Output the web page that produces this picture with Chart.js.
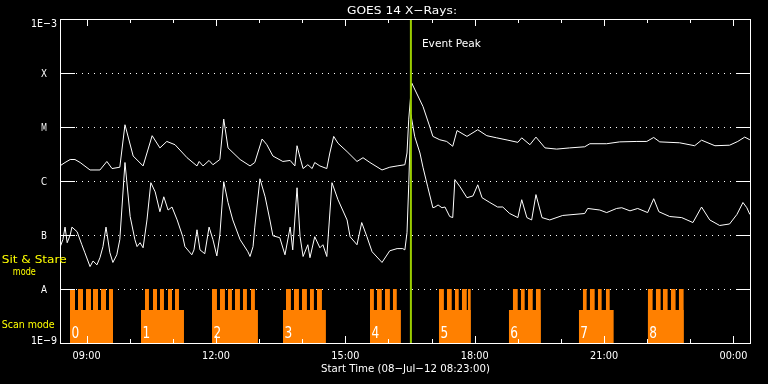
<!DOCTYPE html>
<html>
<head>
<meta charset="utf-8">
<script src="https://cdn.jsdelivr.net/npm/chart.js@4.4.1/dist/chart.umd.min.js"></script>
<style>
  html, body { margin: 0; padding: 0; background: #000; }
  canvas { display: block; }
</style>
</head>
<body>
<canvas id="xrayChart" width="768" height="384"></canvas>
<script>
// GOES 14 X-ray flux (W/m^2), 08-Jul-12, time in decimal hours (24 = 00:00 next day)
const startHour = 8 + 23 / 60;
const endHour = startHour + 16;

// 1-8 A channel (upper curve)
const longTimes = [
    8.38, 8.50, 8.62, 8.73, 8.85, 9.08, 9.31, 9.47, 9.59, 9.77,
    9.89, 10.08, 10.31, 10.52, 10.70, 10.86, 11.05, 11.33, 11.56, 11.61,
    11.70, 11.84, 11.93, 12.09, 12.18, 12.28, 12.56, 12.79, 12.90, 13.07,
    13.18, 13.32, 13.55, 13.72, 13.83, 13.88, 13.95, 14.02, 14.13, 14.23,
    14.29, 14.41, 14.57, 14.64, 14.73, 14.83, 15.04, 15.27, 15.41, 15.57,
    15.85, 16.03, 16.20, 16.38, 16.43, 16.47, 16.54, 16.80, 16.96, 17.03,
    17.19, 17.35, 17.49, 17.59, 17.82, 18.07, 18.28, 18.51, 18.77, 19.00,
    19.09, 19.28, 19.42, 19.63, 19.90, 20.20, 20.55, 20.67, 21.06, 21.36,
    21.76, 21.99, 22.15, 22.29, 22.75, 23.10, 23.26, 23.57, 23.91, 24.10,
    24.26, 24.38
];
const longFlux = [
    1.9e-6, 2.2e-6, 2.5e-6, 2.5e-6, 2.2e-6, 1.6e-6, 1.6e-6, 2.3e-6, 1.7e-6, 1.8e-6,
    1.1e-5, 2.9e-6, 1.9e-6, 6.9e-6, 4.1e-6, 5.4e-6, 4.7e-6, 2.7e-6, 1.9e-6, 2.3e-6,
    1.9e-6, 2.4e-6, 2.0e-6, 2.5e-6, 1.4e-5, 4.1e-6, 2.5e-6, 1.9e-6, 2.2e-6, 6.0e-6,
    4.7e-6, 2.9e-6, 2.3e-6, 2.4e-6, 1.9e-6, 4.5e-6, 2.7e-6, 1.7e-6, 2.0e-6, 1.7e-6,
    2.2e-6, 1.9e-6, 1.7e-6, 3.3e-6, 6.7e-6, 5.0e-6, 3.5e-6, 2.3e-6, 2.7e-6, 2.2e-6,
    1.6e-6, 1.8e-6, 1.9e-6, 2.0e-6, 3.3e-6, 1.4e-5, 6.5e-5, 2.4e-5, 1.0e-5, 6.7e-6,
    5.8e-6, 5.4e-6, 4.4e-6, 8.6e-6, 6.7e-6, 8.9e-6, 6.9e-6, 6.3e-6, 5.7e-6, 5.2e-6,
    6.3e-6, 4.7e-6, 6.5e-6, 4.1e-6, 3.9e-6, 4.1e-6, 4.3e-6, 4.9e-6, 4.9e-6, 5.3e-6,
    5.4e-6, 5.4e-6, 6.4e-6, 5.3e-6, 5.1e-6, 4.5e-6, 5.7e-6, 4.5e-6, 4.6e-6, 5.4e-6,
    6.5e-6, 5.8e-6
];

// 0.5-4 A channel (lower curve)
const shortTimes = [
    8.38, 8.45, 8.50, 8.55, 8.62, 8.66, 8.78, 8.89, 8.96, 9.08,
    9.15, 9.24, 9.31, 9.38, 9.45, 9.54, 9.61, 9.70, 9.77, 9.89,
    10.01, 10.12, 10.17, 10.24, 10.31, 10.40, 10.49, 10.59, 10.70, 10.79,
    10.89, 10.98, 11.10, 11.23, 11.28, 11.44, 11.49, 11.56, 11.63, 11.74,
    11.84, 11.93, 12.02, 12.09, 12.18, 12.28, 12.39, 12.56, 12.74, 12.79,
    12.86, 12.90, 13.02, 13.14, 13.25, 13.32, 13.48, 13.60, 13.72, 13.78,
    13.88, 13.95, 14.02, 14.13, 14.18, 14.29, 14.41, 14.48, 14.57, 14.69,
    14.83, 15.04, 15.11, 15.27, 15.38, 15.50, 15.62, 15.85, 16.03, 16.20,
    16.33, 16.38, 16.43, 16.47, 16.52, 16.61, 16.73, 16.80, 16.91, 17.03,
    17.08, 17.15, 17.24, 17.31, 17.42, 17.49, 17.54, 17.66, 17.82, 17.96,
    18.07, 18.17, 18.35, 18.53, 18.65, 18.81, 19.00, 19.09, 19.21, 19.32,
    19.42, 19.56, 19.74, 20.04, 20.55, 20.62, 20.90, 21.06, 21.29, 21.41,
    21.60, 21.78, 22.01, 22.15, 22.27, 22.52, 22.80, 23.06, 23.26, 23.45,
    23.68, 23.91, 24.08, 24.22, 24.31, 24.38
];
const shortFlux = [
    5.8e-8, 8.2e-8, 1.4e-7, 7.2e-8, 1.0e-7, 1.4e-7, 1.15e-7, 6.6e-8, 4.7e-8, 2.6e-8,
    3.3e-8, 2.8e-8, 3.8e-8, 6.1e-8, 1.4e-7, 4.7e-8, 3.1e-8, 4.3e-8, 8.2e-8, 2.2e-6,
    2.2e-7, 8.2e-8, 6.1e-8, 7.2e-8, 5.8e-8, 1.9e-7, 9.3e-7, 6.3e-7, 2.7e-7, 5.1e-7,
    2.9e-7, 3.3e-7, 1.9e-7, 9.3e-8, 6.1e-8, 4.3e-8, 5.3e-8, 1.25e-7, 5.3e-8, 4.5e-8,
    1.4e-7, 8.2e-8, 4.1e-8, 1.0e-7, 9.7e-7, 4.0e-7, 1.9e-7, 8.2e-8, 4.9e-8, 4.0e-8,
    6.1e-8, 1.4e-7, 1.1e-6, 5.1e-7, 1.9e-7, 9.7e-8, 8.9e-8, 4.3e-8, 1.4e-7, 5.3e-8,
    7.5e-7, 9.3e-8, 4.0e-8, 6.6e-8, 3.8e-8, 9.3e-8, 5.8e-8, 6.6e-8, 4.0e-8, 9.3e-7,
    4.5e-7, 1.9e-7, 9.3e-8, 6.6e-8, 1.7e-7, 9.3e-8, 4.9e-8, 3.1e-8, 5.1e-8, 5.6e-8,
    5.6e-8, 5.3e-8, 1.1e-7, 8.5e-7, 1.7e-5, 6.6e-6, 3.3e-6, 1.8e-6, 7.8e-7, 3.2e-7,
    3.3e-7, 3.6e-7, 3.2e-7, 3.3e-7, 2.2e-7, 2.1e-7, 1.06e-6, 7.8e-7, 4.9e-7, 5.3e-7,
    8.5e-7, 4.9e-7, 4.0e-7, 3.3e-7, 3.3e-7, 2.5e-7, 2.1e-7, 4.5e-7, 2.1e-7, 1.9e-7,
    5.6e-7, 2.1e-7, 1.9e-7, 2.3e-7, 2.5e-7, 3.1e-7, 2.9e-7, 2.6e-7, 3.1e-7, 3.2e-7,
    2.8e-7, 3.1e-7, 2.6e-7, 4.7e-7, 2.7e-7, 2.2e-7, 2.1e-7, 1.7e-7, 3.3e-7, 1.9e-7,
    1.5e-7, 1.6e-7, 2.4e-7, 4.0e-7, 3.2e-7, 2.4e-7
];

const eventPeak = 16.52;

// observing blocks [start, end] (scan mode) and the sit & stare steps inside them
const scanBlocks = [
    [8.615, 9.612], [10.261, 11.258], [11.907, 12.973], [13.552, 14.549], [15.569, 16.288],
    [17.169, 17.910], [18.791, 19.533], [20.414, 21.225], [22.013, 22.848]
];
const stareSteps = [
    [8.615, 8.731], [8.801, 8.917], [8.986, 9.102], [9.148, 9.264], [9.334, 9.450], [9.519, 9.612],
    [10.354, 10.446], [10.539, 10.632], [10.701, 10.794], [10.887, 10.980], [11.049, 11.142],
    [11.907, 12.023], [12.092, 12.208], [12.278, 12.370], [12.440, 12.556], [12.625, 12.718], [12.811, 12.903],
    [13.622, 13.738], [13.808, 13.924], [13.993, 14.109], [14.178, 14.271], [14.341, 14.457],
    [15.569, 15.662], [15.731, 15.847], [15.917, 16.033], [16.102, 16.195],
    [17.169, 17.285], [17.354, 17.470], [17.540, 17.632], [17.702, 17.818], [17.841, 17.910],
    [18.884, 19.000], [19.069, 19.162], [19.232, 19.348], [19.417, 19.533],
    [20.507, 20.599], [20.669, 20.785], [20.854, 20.947], [21.040, 21.133],
    [22.013, 22.129], [22.199, 22.315], [22.361, 22.477], [22.547, 22.662], [22.732, 22.848]
];
const blockLabels = ['0', '1', '2', '3', '4', '5', '6', '7', '8'];

const scanLevel = 4.1e-9;
const stareLevel = 1e-8;

const levelValues = [1e-9, 1e-8, 1e-7, 1e-6, 1e-5, 1e-4, 1e-3];
const levelLabels = ['1E-9', 'A', 'B', 'C', 'M', 'X', '1E-3'];
const hourTicks = [9, 10, 11, 12, 13, 14, 15, 16, 17, 18, 19, 20, 21, 22, 23, 24];
const majorHours = [9, 12, 15, 18, 21, 24];
const majorLabels = ['09:00', '12:00', '15:00', '18:00', '21:00', '00:00'];

const WHITE = '#ffffff';
const YELLOW = '#ffff00';
const ORANGE = '#ff8000';
const PEAK_GREEN = '#9acd00';
const FONT = '"DejaVu Sans", sans-serif';

function toPoints(xs, ys) {
    return xs.map((x, i) => ({ x: x, y: ys[i] }));
}

// flat tops for each [start, end] interval, broken by gaps so each fills as its own box
function boxTops(intervals, level) {
    const pts = [];
    intervals.forEach(([s, e]) => {
        pts.push({ x: s, y: level });
        pts.push({ x: e, y: level });
        pts.push({ x: e, y: null });
    });
    return pts;
}

// text squeezed/stretched to the width it has in the IDL plot
function drawText(ctx, txt, x, base, size, width, align, color) {
    ctx.save();
    ctx.font = size + 'px ' + FONT;
    ctx.fillStyle = color;
    ctx.textAlign = 'left';
    ctx.textBaseline = 'alphabetic';
    const w = ctx.measureText(txt).width;
    const sx = width ? width / w : 1;
    let left = x;
    if (align === 'center') left = x - w * sx / 2;
    if (align === 'right') left = x - w * sx;
    ctx.translate(left, base);
    ctx.scale(sx, 1);
    ctx.fillText(txt, 0, 0);
    ctx.restore();
}

const idlFrame = {
    id: 'idlFrame',
    beforeDatasetsDraw(chart) {
        const { ctx, chartArea: a, scales: { y } } = chart;
        ctx.save();
        ctx.strokeStyle = WHITE;
        ctx.lineWidth = 1;
        ctx.setLineDash([1, 5]);
        levelValues.slice(1, -1).forEach(v => {
            const py = Math.round(y.getPixelForValue(v)) + 0.5;
            ctx.beginPath();
            ctx.moveTo(a.left + 16, py);
            ctx.lineTo(a.right - 15, py);
            ctx.stroke();
        });
        ctx.restore();
    },
    afterDatasetsDraw(chart) {
        const { ctx, chartArea: a, scales: { x, y } } = chart;
        ctx.save();
        ctx.strokeStyle = WHITE;
        ctx.lineWidth = 1;
        ctx.strokeRect(a.left + 0.5, a.top + 0.5, a.right - a.left, a.bottom - a.top);

        ctx.beginPath();
        levelValues.slice(1, -1).forEach(v => {
            const py = Math.round(y.getPixelForValue(v)) + 0.5;
            ctx.moveTo(a.left, py);
            ctx.lineTo(a.left + 15, py);
            ctx.moveTo(a.right - 14, py);
            ctx.lineTo(a.right + 1, py);
        });
        hourTicks.forEach(h => {
            const px = Math.round(x.getPixelForValue(h)) + 0.5;
            const major = majorHours.includes(h);
            ctx.moveTo(px, a.bottom);
            ctx.lineTo(px, a.bottom - (major ? 7 : 4));
            ctx.moveTo(px, a.top);
            ctx.lineTo(px, a.top + (major ? 7 : 4));
        });
        ctx.stroke();
        ctx.restore();
    },
    afterDraw(chart) {
        const { ctx, chartArea: a, scales: { x, y } } = chart;
        const mid = (a.left + a.right) / 2;

        drawText(ctx, 'GOES 14 X\u2212Rays:', mid - 3, 13.5, 11, 110, 'center', WHITE);

        levelValues.forEach((v, i) => {
            let base = y.getPixelForValue(v) + 4;
            if (i === 0) base = a.bottom + 1;
            if (i === levelValues.length - 1) base = a.top + 8;
            const lbl = levelLabels[i];
            drawText(ctx, lbl.replace('-', '\u2212'), 44, base, 11, lbl.length > 1 ? 26 : 6, 'center', WHITE);
        });

        majorHours.forEach((h, i) => {
            drawText(ctx, majorLabels[i], x.getPixelForValue(h), 359, 10, 28, 'center', WHITE);
        });
        drawText(ctx, 'Start Time (08\u2212Jul\u221212 08:23:00)', mid + 0.5, 372, 11, 169, 'center', WHITE);

        const px = x.getPixelForValue(eventPeak);
        drawText(ctx, 'Event Peak', px + 11, 46.5, 11, 59, 'left', WHITE);

        drawText(ctx, 'Sit & Stare', 1.7, 262.5, 11, 65, 'left', YELLOW);
        drawText(ctx, 'mode', 24.3, 275, 11, 23, 'center', YELLOW);
        drawText(ctx, 'Scan mode', 1.7, 328.3, 11, 53, 'left', YELLOW);

        scanBlocks.forEach(([s], i) => {
            drawText(ctx, blockLabels[i], x.getPixelForValue(s) + 1.5, 338.3, 16, 7.7, 'left', WHITE);
        });
    }
};

const ctx = document.getElementById('xrayChart').getContext('2d');
new Chart(ctx, {
    type: 'line',
    data: {
        datasets: [
            {
                label: 'Event Peak',
                data: [{ x: eventPeak, y: 1e-3 }, { x: eventPeak, y: 1e-9 }],
                borderColor: PEAK_GREEN,
                borderWidth: 2,
                order: 0
            },
            {
                label: '1-8 A',
                data: toPoints(longTimes, longFlux),
                borderColor: WHITE,
                borderWidth: 1,
                order: 1
            },
            {
                label: '0.5-4 A',
                data: toPoints(shortTimes, shortFlux),
                borderColor: WHITE,
                borderWidth: 1,
                order: 1
            },
            {
                label: 'Sit & Stare mode',
                data: boxTops(stareSteps, stareLevel),
                fill: 'start',
                spanGaps: false,
                backgroundColor: ORANGE,
                borderColor: 'rgba(0,0,0,0)',
                borderWidth: 0,
                order: 2
            },
            {
                label: 'Scan mode',
                data: boxTops(scanBlocks, scanLevel),
                fill: 'start',
                spanGaps: false,
                backgroundColor: ORANGE,
                borderColor: 'rgba(0,0,0,0)',
                borderWidth: 0,
                order: 3
            }
        ]
    },
    options: {
        responsive: false,
        animation: false,
        events: [],
        layout: { padding: { left: 60, top: 19, right: 18, bottom: 41 } },
        elements: { point: { radius: 0 }, line: { tension: 0 } },
        plugins: {
            legend: { display: false },
            tooltip: { enabled: false }
        },
        scales: {
            x: { type: 'linear', min: startHour, max: endHour, display: false },
            y: { type: 'logarithmic', min: 1e-9, max: 1e-3, display: false }
        }
    },
    plugins: [idlFrame]
});
</script>
</body>
</html>
